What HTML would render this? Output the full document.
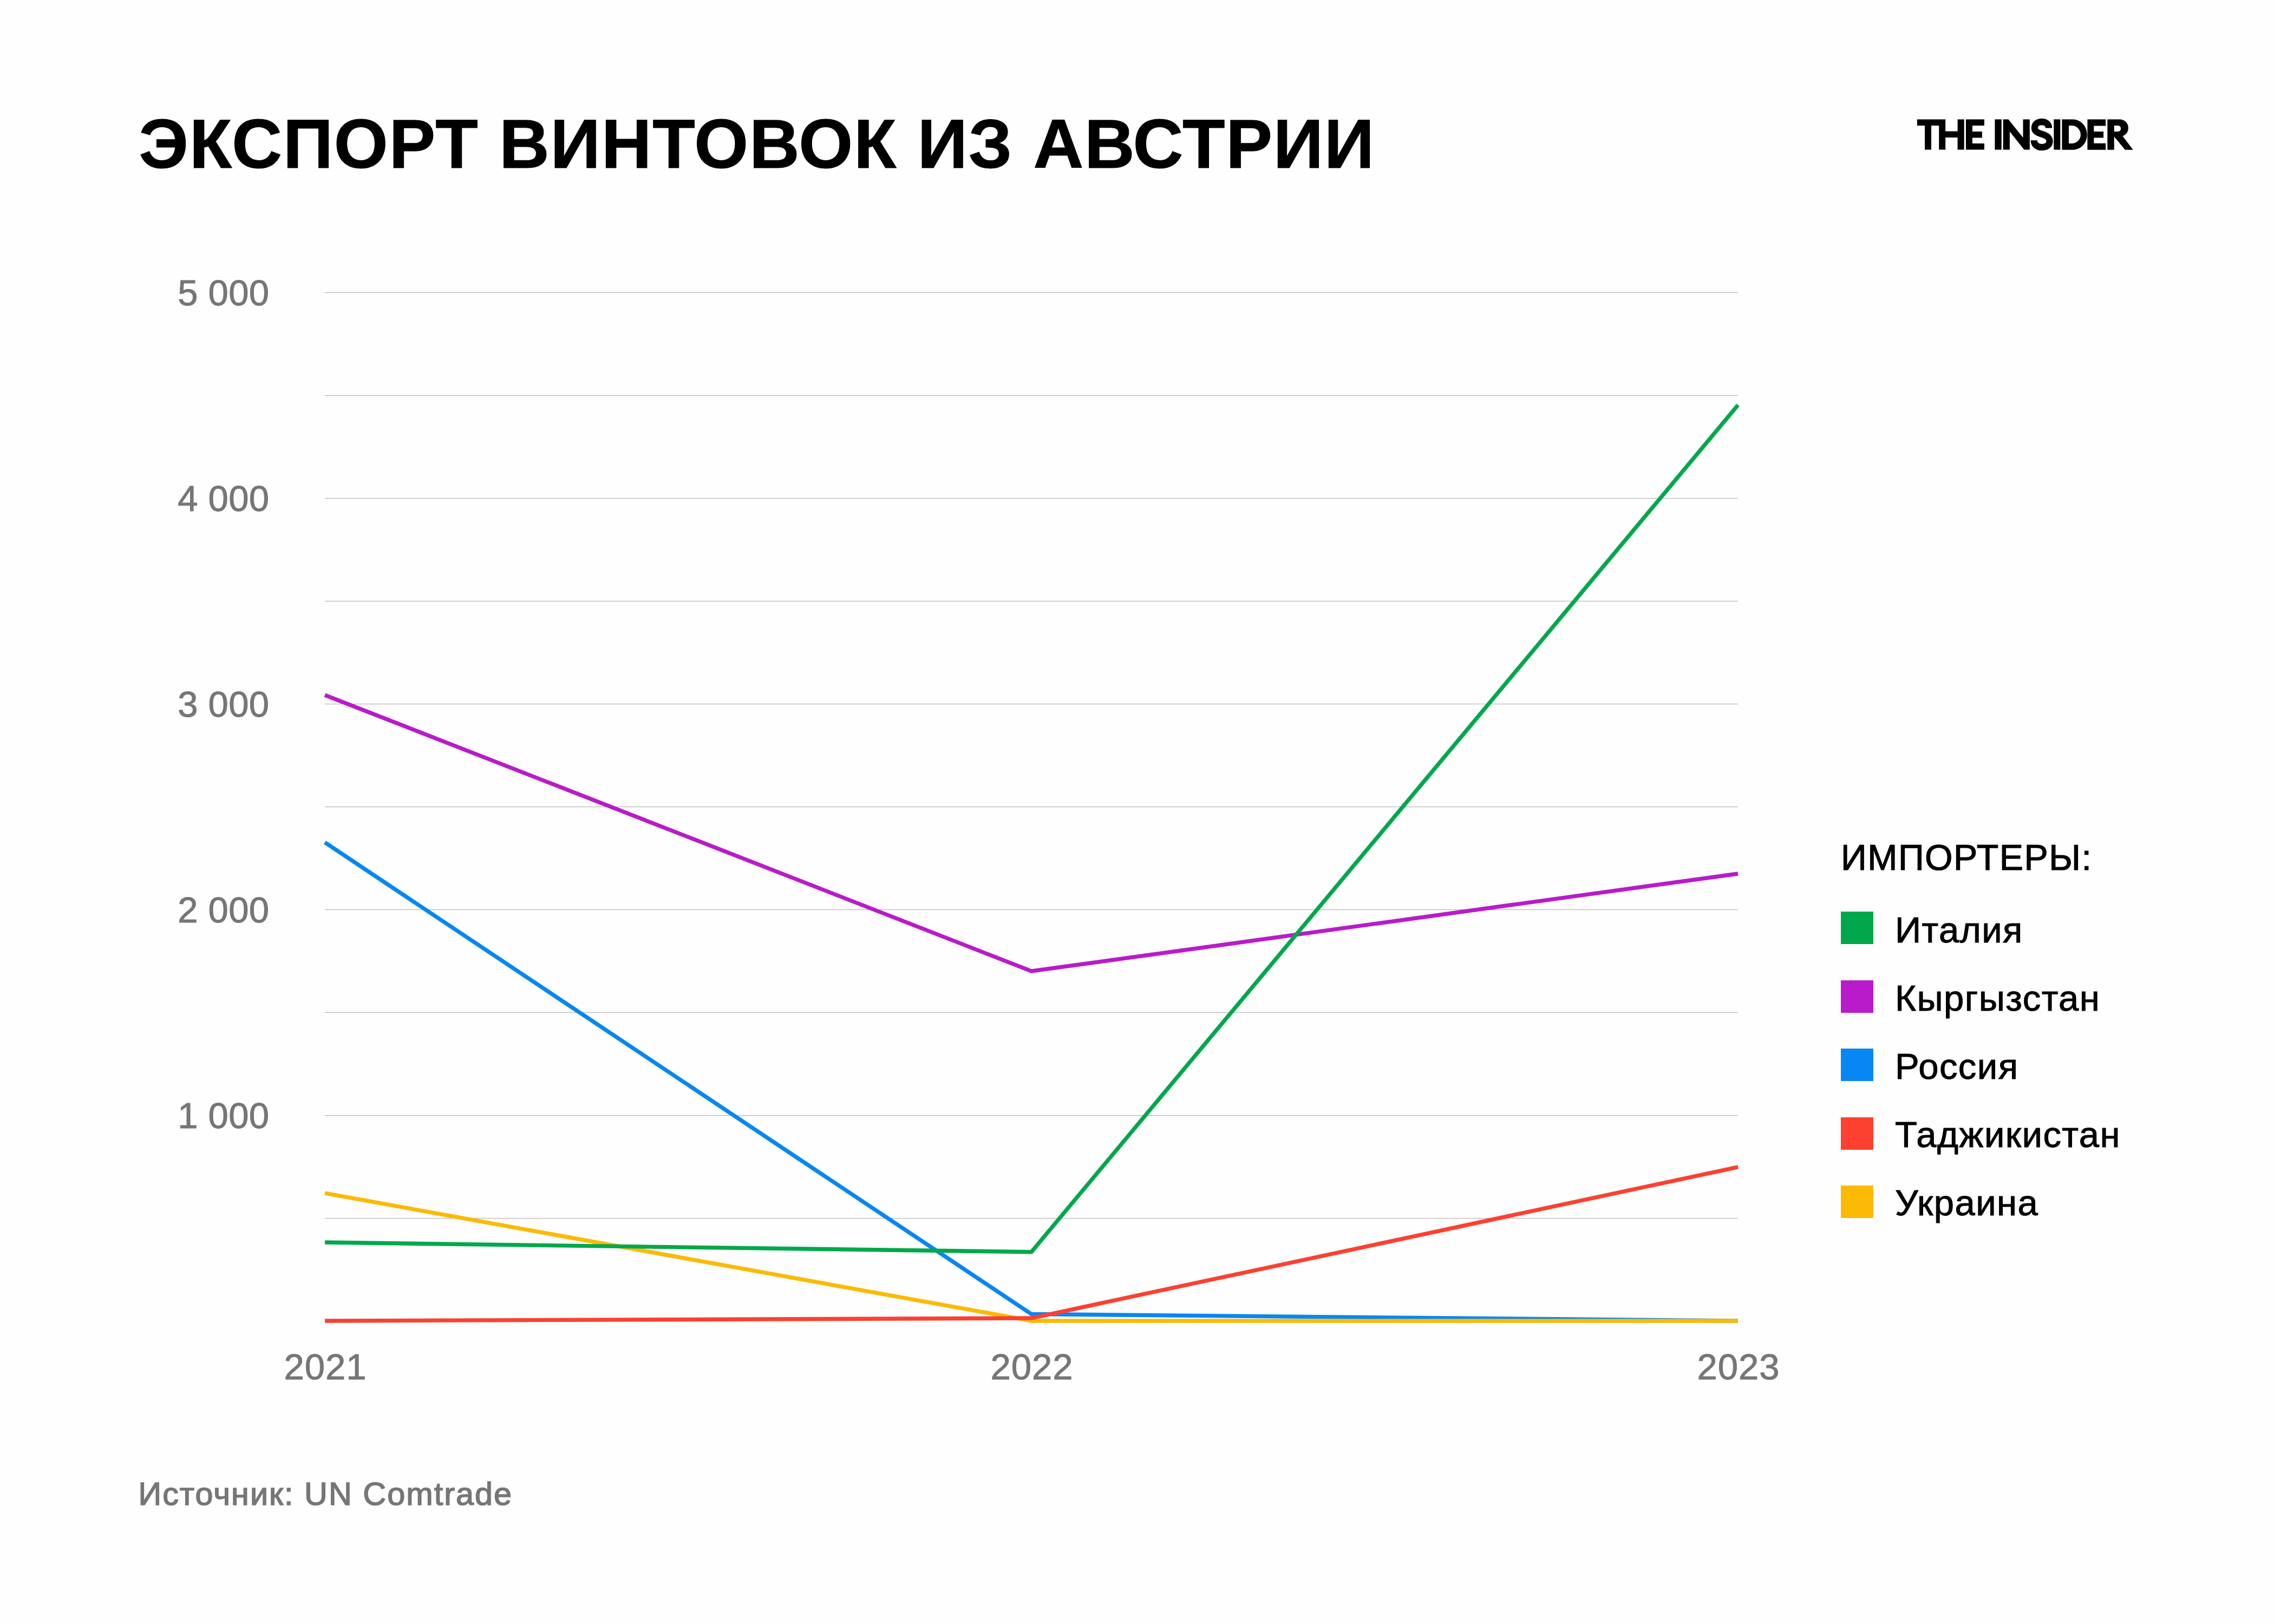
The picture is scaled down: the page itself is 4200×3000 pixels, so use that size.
<!DOCTYPE html>
<html>
<head>
<meta charset="utf-8">
<style>
html,body{margin:0;padding:0;background:#fefefe;}
body{width:4200px;height:3000px;overflow:hidden;position:relative;}
svg{position:absolute;left:0;top:0;}
text{font-family:"Liberation Sans",sans-serif;}
</style>
</head>
<body>
<svg width="4200" height="3000" viewBox="0 0 4200 3000" xmlns="http://www.w3.org/2000/svg">
<rect x="0" y="0" width="4200" height="3000" fill="#fefefe"/>
<!-- title -->
<text x="256.5" y="310" font-size="128.5" font-weight="bold" letter-spacing="1.75" fill="#000" stroke="#000" stroke-width="1">ЭКСПОРТ ВИНТОВОК ИЗ АВСТРИИ</text>
<!-- gridlines -->
<g fill="#aaaaaa">
<rect x="600" y="540" width="2610" height="1"/>
<rect x="600" y="730" width="2610" height="1"/>
<rect x="600" y="920" width="2610" height="1"/>
<rect x="600" y="1110" width="2610" height="1"/>
<rect x="600" y="1300" width="2610" height="1"/>
<rect x="600" y="1490" width="2610" height="1"/>
<rect x="600" y="1680" width="2610" height="1"/>
<rect x="600" y="1870" width="2610" height="1"/>
<rect x="600" y="2060" width="2610" height="1"/>
<rect x="600" y="2250" width="2610" height="1"/>
</g>
<!-- y labels -->
<g font-size="67" fill="#767676" stroke="#767676" stroke-width="1" letter-spacing="0.3" text-anchor="end">
<text x="497.3" y="563.7">5 000</text>
<text x="497.3" y="943.7">4 000</text>
<text x="497.3" y="1323.7">3 000</text>
<text x="497.3" y="1703.7">2 000</text>
<text x="497.3" y="2083.7">1 000</text>
</g>
<!-- x labels -->
<g font-size="67" fill="#767676" stroke="#767676" stroke-width="1" letter-spacing="1" text-anchor="middle">
<text x="601" y="2548">2021</text>
<text x="1906" y="2548">2022</text>
<text x="3211" y="2548">2023</text>
</g>
<!-- series -->
<g fill="none" stroke-width="7.4" stroke-linejoin="miter" stroke-linecap="butt">
<polyline stroke="#0687f4" points="600,1556.2 1905,2427.5 3210,2440"/>
<polyline stroke="#fcba05" points="600,2204.2 1905,2440 3210,2440"/>
<polyline stroke="#fc4131" points="600,2440 1905,2435 3210,2155.8"/>
<polyline stroke="#b91bca" points="600,1284 1905,1794 3210,1614"/>
<polyline stroke="#01a84b" points="600,2295 1905,2312.7 3210,748.2"/>
</g>
<!-- legend -->
<text x="3400" y="1606.5" font-size="66.3" letter-spacing="1.5" fill="#000" stroke="#000" stroke-width="1.2">ИМПОРТЕРЫ:</text>
<g>
<rect x="3400" y="1684" width="60" height="60" fill="#01a84b"/>
<rect x="3400" y="1811" width="60" height="60" fill="#b91bca"/>
<rect x="3400" y="1937" width="60" height="60" fill="#0687f4"/>
<rect x="3400" y="2064" width="60" height="60" fill="#fc4131"/>
<rect x="3400" y="2190" width="60" height="60" fill="#fcba05"/>
</g>
<g font-size="67" fill="#000" stroke="#000" stroke-width="1" letter-spacing="1.45">
<text x="3500" y="1741">Италия</text>
<text x="3500" y="1867.2">Кыргызстан</text>
<text x="3500" y="1993.3">Россия</text>
<text x="3500" y="2119.2">Таджикистан</text>
<text x="3500" y="2245.4">Украина</text>
</g>
<!-- source -->
<text x="255.5" y="2779.6" font-size="59.3" letter-spacing="2.05" fill="#767676" stroke="#767676" stroke-width="1.6">Источник: UN Comtrade</text>
<!-- logo -->
<g id="logo" fill="#000">
<g transform="translate(3530,210) scale(0.074761)">
<path d="M145,140 H845 V435 H1145 V140 H1307 V890 H1145 V590 H845 V890 H685 V295 H495 V890 H335 V295 H145 Z"/>
<path d="M1350,140 H1805 V295 H1510 V440 H1750 V595 H1510 V735 H1805 V890 H1350 Z"/>
<path d="M2065,140 H2230 V890 H2065 Z"/>
</g>
<g transform="translate(3680,210) scale(0.061565)">
<path d="M320,170 H478 L918,720 V170 H1118 V1082 H950 L518,535 V1082 H320 Z"/>
<path fill="none" stroke="#000" stroke-width="198" d="M1690,432 C1690,310 1600,245 1478,245 C1350,245 1265,320 1265,425 C1265,535 1360,575 1480,612 C1625,655 1715,710 1715,830 C1715,945 1620,1007 1490,1007 C1340,1007 1245,925 1245,800"/>
<path d="M1840,170 H2035 V1082 H1840 Z"/>
</g>
<g transform="translate(3800,210) scale(0.065963)">
<path fill-rule="evenodd" d="M128,160 H430 C650,160 830,350 830,586 C830,830 650,1012 430,1012 H128 Z M318,335 H400 C540,335 650,450 650,586 C650,725 540,835 400,835 H318 Z"/>
<path d="M840,160 H1352 V340 H1020 V500 H1290 V675 H1020 V830 H1352 V1012 H840 Z"/>
<path fill-rule="evenodd" d="M1400,160 H1740 C1880,160 1985,265 1985,400 C1985,535 1880,640 1740,640 H1588 V1012 H1400 Z M1588,335 H1690 C1740,335 1775,370 1775,417 C1775,465 1740,500 1690,500 H1588 Z"/>
<path d="M1585,640 L1825,625 L2118,1012 L1895,1012 Z"/>
</g>
</g>
</svg>
</body>
</html>
